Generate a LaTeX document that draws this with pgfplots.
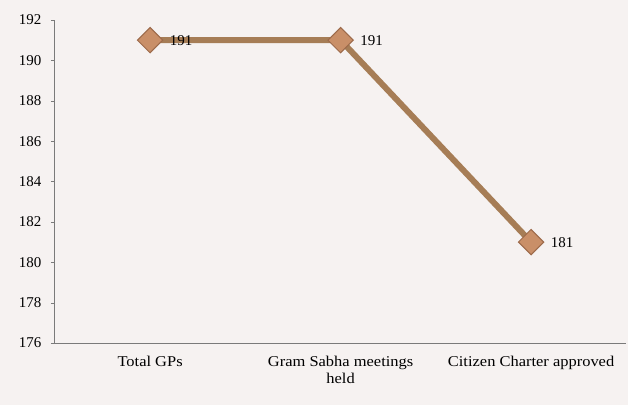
\documentclass[border=0pt]{standalone}
\usepackage{pgfplots}
\pgfplotsset{compat=1.18}
\usepackage{fontspec}
\setmainfont{Liberation Serif}
\usetikzlibrary{calc,backgrounds}
\definecolor{bgc}{HTML}{F6F2F1}
\definecolor{linec}{HTML}{A67D56}
\definecolor{markc}{HTML}{C98F68}
\definecolor{markd}{HTML}{9C6A4A}
\definecolor{axc}{HTML}{7A7A7A}
\begin{document}
\begin{tikzpicture}[x=1pt,y=1pt]
\begin{axis}[
    scale only axis,
    width=573pt, height=324pt,
    xmin=-0.5, xmax=2.5,
    ymin=176, ymax=192,
    ytick={176,178,...,192},
    xtick={0,1,2},
    xticklabels={Total GPs, Gram Sabha meetings\\held, Citizen Charter approved},
    extra x ticks={-0.5,0.5,1.5,2.5},
    extra x tick labels={},
    extra x tick style={major tick length=4pt, tick style={axc}},
    x tick label style={align=center, font=\fontsize{15}{17}\selectfont, xscale=1.1, yshift=-6pt},
    y tick label style={font=\fontsize{15}{16}\selectfont, xshift=-6pt},
    axis lines*=left,
    axis line style={axc, line width=0.8pt},
    xtick style={draw=none},
    ytick style={axc},
    tick align=outside,
    major tick length=4pt,
    axis background/.style={fill=bgc},
    /pgf/number format/assume math mode=true,
    nodes near coords,
    every node near coord/.append style={anchor=west, xshift=16pt, font=\fontsize{15}{16}\selectfont, black},
    clip=false,
]
\addplot[linec, line width=6pt, mark=square*, mark size=9pt,
    mark options={rotate=45, fill=markc, draw=markd, line width=1pt}]
    coordinates {(0,191) (1,191) (2,181)};
\end{axis}
\begin{scope}[on background layer]
\fill[bgc] ($(current axis.south west)+(-55pt,-62pt)$) rectangle +(630pt,406pt);
\end{scope}
\end{tikzpicture}
\end{document}
